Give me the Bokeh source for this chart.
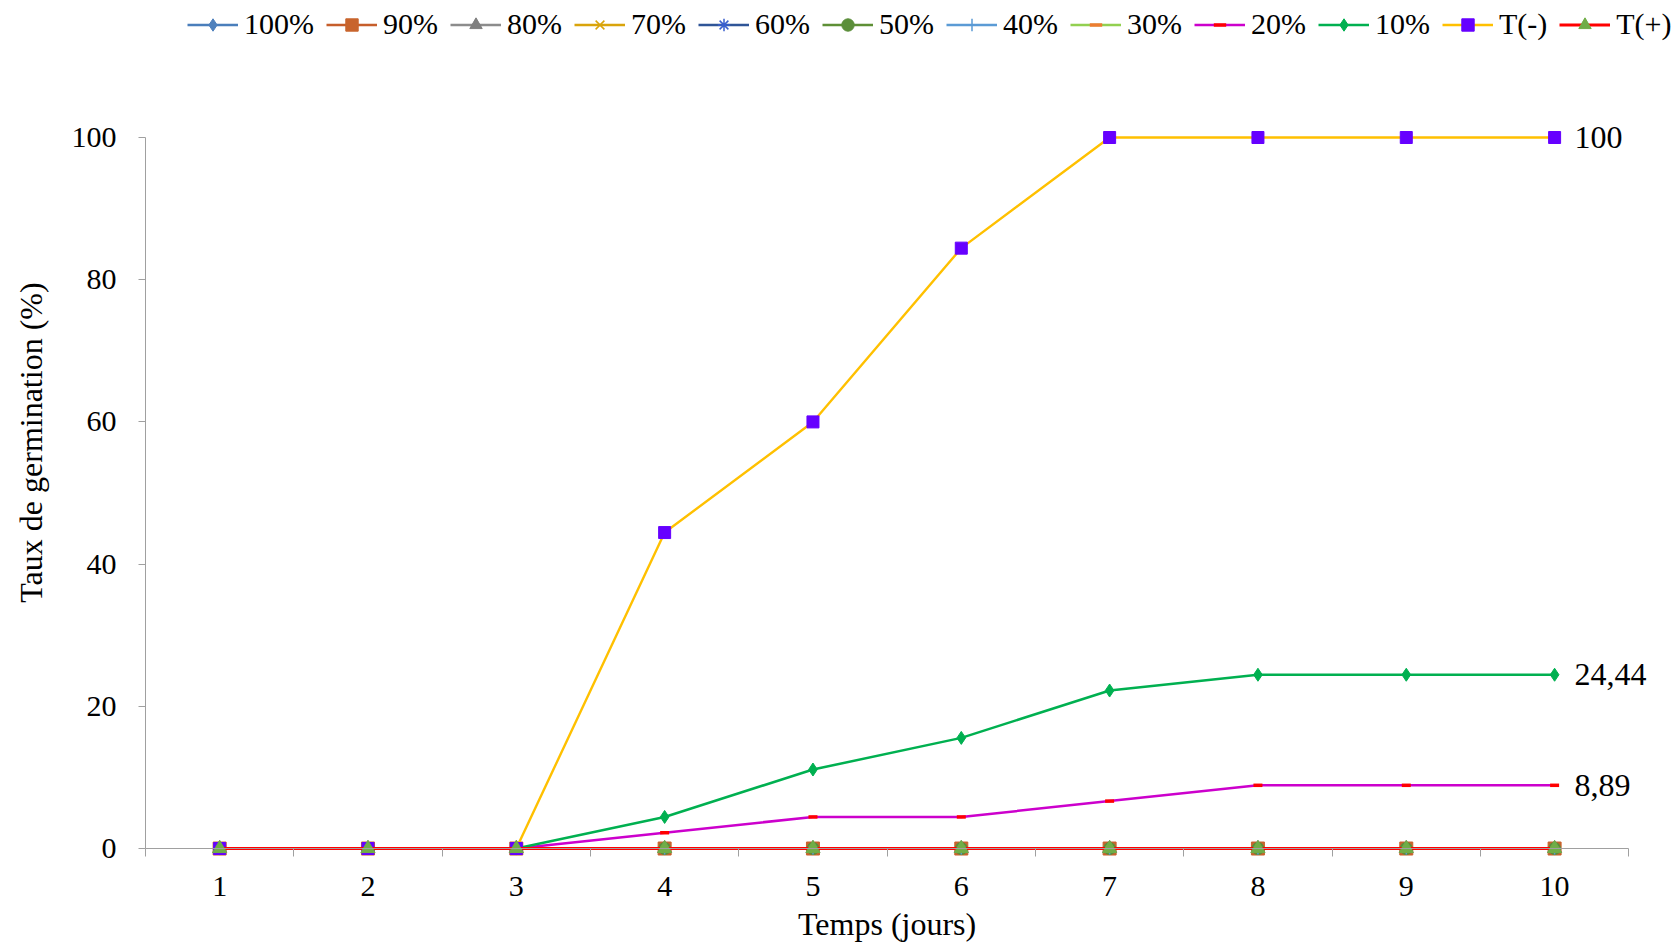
import math
from bokeh.plotting import figure
from bokeh.models import Range1d, FixedTicker, Legend, LegendItem, Label
from bokeh.core.properties import value
from bokeh.embed import file_html
from bokeh.resources import INLINE

# ---- data ----
days = [1, 2, 3, 4, 5, 6, 7, 8, 9, 10]
y_ticks = [0, 20, 40, 60, 80, 100]
series_names = ["100%", "90%", "80%", "70%", "60%", "50%", "40%", "30%", "20%", "10%", "T(-)", "T(+)"]
v100 = [0, 0, 0, 0, 0, 0, 0, 0, 0, 0]
v90 = [0, 0, 0, 0, 0, 0, 0, 0, 0, 0]
v80 = [0, 0, 0, 0, 0, 0, 0, 0, 0, 0]
v70 = [0, 0, 0, 0, 0, 0, 0, 0, 0, 0]
v60 = [0, 0, 0, 0, 0, 0, 0, 0, 0, 0]
v50 = [0, 0, 0, 0, 0, 0, 0, 0, 0, 0]
v40 = [0, 0, 0, 0, 0, 0, 0, 0, 0, 0]
v30 = [0, 0, 0, 0, 0, 0, 0, 0, 0, 0]
v20 = [0, 0, 0, 2.22, 4.44, 4.44, 6.67, 8.89, 8.89, 8.89]
v10 = [0, 0, 0, 4.44, 11.11, 15.56, 22.22, 24.44, 24.44, 24.44]
vTm = [0, 0, 0, 44.44, 60, 84.44, 100, 100, 100, 100]
vTp = [0, 0, 0, 0, 0, 0, 0, 0, 0, 0]
series_values = [v100, v90, v80, v70, v60, v50, v40, v30, v20, v10, vTm, vTp]
labelled_series = ["T(-)", "10%", "20%"]
x_title = "Temps (jours)"
y_title = "Taux de germination (%)"

# ---- styles ----
FONT = "Liberation Serif"
styles = {
    "100%": dict(line="#4A7EBB", marker="diamond", mfill="#4F81BD", size=13, lw=2.5),
    "90%": dict(line="#C65E2B", marker="square", mfill="#C8642D", size=13, lw=2.5),
    "80%": dict(line="#8C8C8C", marker="triangle", mfill="#7F7F7F", size=14, lw=2.5),
    "70%": dict(line="#D9A40B", marker="x", mfill="#D9A40B", size=12, lw=2.5),
    "60%": dict(line="#2F5597", marker="asterisk", mfill="#3A5FCD", size=12, lw=2.5),
    "50%": dict(line="#5E8F36", marker="circle", mfill="#5B8E3A", size=12, lw=2.5),
    "40%": dict(line="#5B9BD5", marker="cross", mfill="#5B9BD5", size=12, lw=2.5),
    "30%": dict(line="#92D050", marker="dash", mfill="#ED7D31", size=9, lw=2.5),
    "20%": dict(line="#CC00CC", marker="dash", mfill="#FF0000", size=9, lw=2.5),
    "10%": dict(line="#00B050", marker="diamond", mfill="#00B050", size=13, lw=2.5),
    "T(-)": dict(line="#FFC000", marker="square", mfill="#6600FF", size=12, lw=2.4),
    "T(+)": dict(line="#FF0000", marker="triangle", mfill="#70AD47", size=14, lw=3),
}
line_markers = {"x", "asterisk", "cross", "dash"}

# The plotting frame covers the whole canvas; axes are pinned at x=0.5 / y=0.
p = figure(width=1679, height=945,
           x_range=Range1d(-0.4775, 10.842), y_range=Range1d(-13.64, 119.27),
           output_backend="svg", toolbar_location=None,
           min_border_left=0, min_border_right=0, min_border_top=0, min_border_bottom=0)
p.grid.visible = False
p.outline_line_color = None
p.background_fill_color = "white"
p.border_fill_color = "white"

items = []
for name, vals in zip(series_names, series_values):
    st = styles[name]
    lr = p.line(days, vals, line_color=st["line"], line_width=st["lw"])
    if st["marker"] in line_markers:
        sr = p.scatter(days, vals, marker=st["marker"], size=st["size"],
                       line_color=st["mfill"], line_width=3.5 if st["marker"] == "dash" else 1.5)
    else:
        sr = p.scatter(days, vals, marker=st["marker"], size=st["size"],
                       fill_color=st["mfill"], line_color=st["mfill"], line_width=1)
    items.append(LegendItem(label=name, renderers=[lr, sr]))

# data labels at last point
for name in labelled_series:
    vals = series_values[series_names.index(name)]
    last = vals[-1]
    txt = ("%g" % last).replace(".", ",")
    p.text(x=[days[-1]], y=[last], text=[txt], x_offset=20,
           text_baseline="middle", text_align="left",
           text_font=value(FONT), text_font_size="32px", text_color="black")

AXIS_COLOR = "#A0A0A0"
# x axis pinned at y = 0, category-boundary ticks
xa = p.xaxis[0]
xa.fixed_location = 0
xa.ticker = FixedTicker(ticks=days, minor_ticks=[d - 0.5 for d in days] + [days[-1] + 0.5])
xa.bounds = (days[0] - 0.5, days[-1] + 0.5)
xa.axis_line_color = AXIS_COLOR
xa.major_tick_line_color = None
xa.minor_tick_line_color = AXIS_COLOR
xa.major_tick_out = 0
xa.major_tick_in = 0
xa.minor_tick_out = 8
xa.minor_tick_in = 0
xa.major_label_standoff = 20
xa.major_label_text_font = FONT
xa.major_label_text_font_size = "30px"
xa.major_label_text_color = "black"

# y axis pinned at x = 0.5
ya = p.yaxis[0]
ya.fixed_location = days[0] - 0.5
ya.ticker = FixedTicker(ticks=y_ticks, minor_ticks=[])
ya.bounds = (0, 100)
ya.major_tick_out = 7
ya.major_tick_in = 0
ya.minor_tick_out = 0
ya.minor_tick_in = 0
ya.axis_line_color = AXIS_COLOR
ya.major_tick_line_color = AXIS_COLOR
ya.major_label_standoff = 22
ya.major_label_text_font = FONT
ya.major_label_text_font_size = "30px"
ya.major_label_text_color = "black"

# axis titles
p.add_layout(Label(x=(days[0] + days[-1]) / 2, y=-10.55, x_units="data", y_units="data",
                   text=x_title, text_align="center", text_baseline="middle",
                   text_font=FONT, text_font_size="32px", text_color="black"))
p.add_layout(Label(x=-0.275, y=57.1, x_units="data", y_units="data", angle=math.pi / 2,
                   text=y_title, text_align="center", text_baseline="middle",
                   text_font=FONT, text_font_size="32px", text_color="black"))

legend = Legend(items=items, orientation="horizontal", location=(187, 904),
                glyph_width=51, glyph_height=31, label_standoff=6, spacing=12,
                padding=0, margin=0, border_line_color=None, background_fill_alpha=0,
                label_text_font=FONT, label_text_font_size="30px", label_text_color="black")
p.add_layout(legend, "center")

open("out.html", "w").write(file_html(p, INLINE))
